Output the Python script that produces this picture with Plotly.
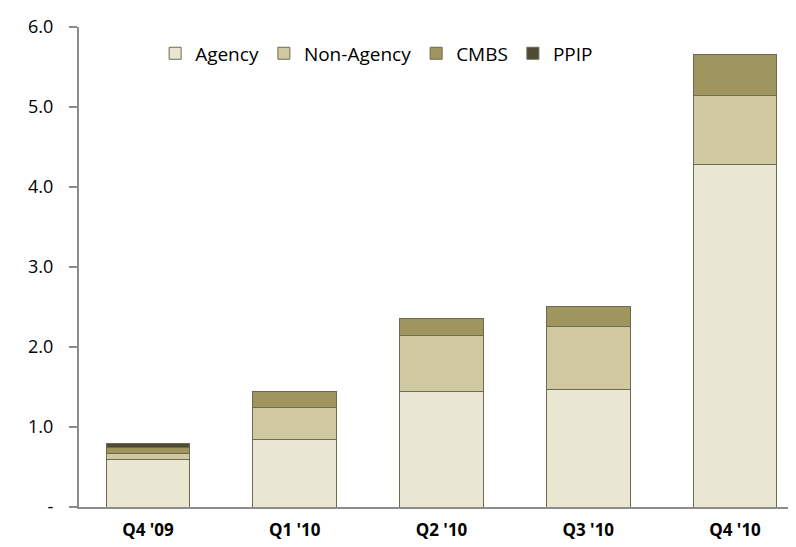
import plotly.graph_objects as go

quarters = ["Q4 '09", "Q1 '10", "Q2 '10", "Q3 '10", "Q4 '10"]
agency = [0.60, 0.85, 1.45, 1.47, 4.28]
non_agency = [0.07, 0.39, 0.69, 0.79, 0.86]
cmbs = [0.07, 0.21, 0.22, 0.25, 0.52]
ppip = [0.06, 0.0, 0.0, 0.0, 0.0]

y_ticks = [0, 1, 2, 3, 4, 5, 6]
y_tick_text = ["-", "1.0", "2.0", "3.0", "4.0", "5.0", "6.0"]

series = [
    ("Agency", agency, "#E9E6D2"),
    ("Non-Agency", non_agency, "#CFC8A0"),
    ("CMBS", cmbs, "#9E955F"),
    ("PPIP", ppip, "#4E4A33"),
]

fig = go.Figure()
for name, vals, color in series:
    fig.add_trace(go.Bar(
        name=name, x=quarters, y=vals, width=0.57,
        marker=dict(color=color, line=dict(color="#6E6A52", width=1)),
    ))

fig.update_layout(
    width=796, height=547,
    barmode="stack",
    plot_bgcolor="white", paper_bgcolor="white",
    margin=dict(l=71, r=0, t=19, b=48),
    font=dict(family="Open Sans, sans-serif", size=18, color="#000000"),
    legend=dict(orientation="h", x=0.105, y=0.945, xanchor="left", yanchor="middle",
                font=dict(size=19), traceorder="normal", itemwidth=30,
                entrywidth=0),
)
fig.update_xaxes(
    range=[-0.47, 4.47], showline=True, linecolor="#8C8C8C", linewidth=2,
    ticks="", showgrid=False, tickfont=dict(size=17),
    ticklabelstandoff=7,
    tickvals=quarters, ticktext=["<b>%s</b>" % q for q in quarters],
)
fig.update_yaxes(
    range=[0, 6], tickvals=y_ticks, ticktext=y_tick_text,
    showline=True, linecolor="#8C8C8C", linewidth=2,
    ticks="outside", ticklen=8, tickcolor="#8C8C8C", tickwidth=2,
    showgrid=False, zeroline=False, ticklabelstandoff=12,
)

fig.write_html("out.html")
